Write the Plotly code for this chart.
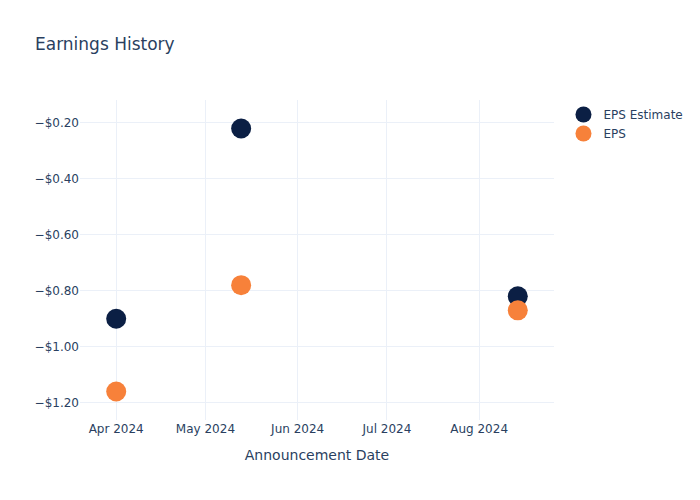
import plotly.graph_objects as go

dates = ["2024-04-01", "2024-05-13", "2024-08-14"]
eps_estimate = [-0.90, -0.22, -0.82]
eps_actual = [-1.16, -0.78, -0.87]

fig = go.Figure()
fig.add_trace(go.Scatter(x=dates, y=eps_estimate, mode="markers", name="EPS Estimate",
                         marker=dict(color="#0b1f44", size=20)))
fig.add_trace(go.Scatter(x=dates, y=eps_actual, mode="markers", name="EPS",
                         marker=dict(color="#f7813a", size=20)))
fig.update_layout(
    template="plotly_white",
    width=700, height=500,
    font=dict(family="DejaVu Sans"),
    title=dict(text="Earnings History"),
    xaxis=dict(title=dict(text="Announcement Date")),
    yaxis=dict(tickformat="$.2f"),
)
fig.write_html("out.html")
